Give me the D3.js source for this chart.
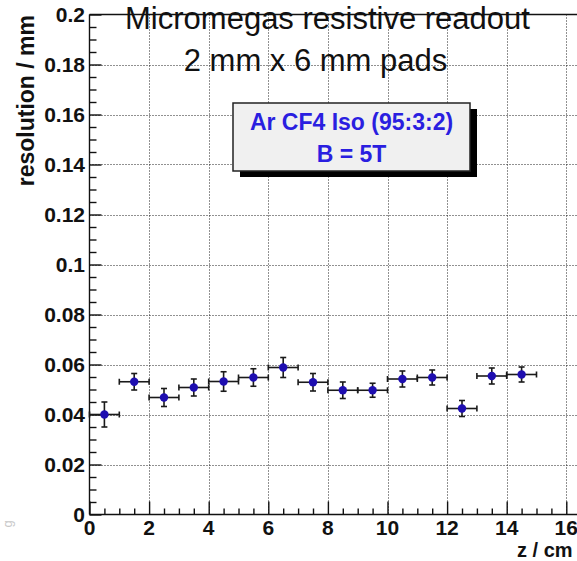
<!DOCTYPE html>
<html>
<head>
<meta charset="utf-8">
<script src="https://cdn.jsdelivr.net/npm/d3@7"></script>
<style>
  body { margin: 0; background: #fff; overflow: hidden; }
  svg { display: block; font-family: "Liberation Sans", Arial, Helvetica, sans-serif; }
</style>
</head>
<body>
<svg id="chart"></svg>
<script>
// chart size
const width = 577;
const height = 561;

// data
const zValues = [0.5, 1.5, 2.5, 3.5, 4.5, 5.5, 6.5, 7.5, 8.5, 9.5, 10.5, 11.5, 12.5, 13.5, 14.5];
const resolution = [0.0400, 0.0531, 0.0468, 0.0508, 0.0532, 0.0548, 0.0588, 0.0529, 0.0497, 0.0497, 0.0542, 0.0548, 0.0424, 0.0554, 0.0560];
const resError = [0.0050, 0.0033, 0.0036, 0.0034, 0.0039, 0.0035, 0.0040, 0.0035, 0.0033, 0.0028, 0.0032, 0.0030, 0.0032, 0.0032, 0.0030];
const zHalfWidth = [0.5, 0.5, 0.5, 0.5, 0.5, 0.5, 0.5, 0.5, 0.5, 0.5, 0.5, 0.5, 0.5, 0.5, 0.5];

const xTicks = [0, 2, 4, 6, 8, 10, 12, 14, 16];
const yTicks = [0, 0.02, 0.04, 0.06, 0.08, 0.1, 0.12, 0.14, 0.16, 0.18, 0.2];
const titleLines = ["Micromegas resistive readout", "2 mm x 6 mm pads"];
const legendLines = ["Ar CF4 Iso (95:3:2)", "B = 5T"];

const points = zValues.map((z, i) => ({ z: z, r: resolution[i], e: resError[i], dz: zHalfWidth[i] }));

// frame (right side runs off the window, like the original)
const plotLeft = 89.5, plotTop = 14.5, plotBottom = 514.5;
const x = d3.scaleLinear().domain([0, 16]).range([plotLeft, plotLeft + 16 * 29.8]);
const y = d3.scaleLinear().domain([0, 0.2]).range([plotBottom, plotTop]);

const svg = d3.select("#chart")
    .attr("width", width)
    .attr("height", height);

svg.append("rect").attr("width", width).attr("height", height).attr("fill", "#fff");

// dotted grid
svg.append("g")
    .selectAll("line")
    .data(yTicks.filter(t => t > 0 && t < 0.2))
    .enter()
    .append("line")
    .attr("x1", plotLeft).attr("x2", width)
    .attr("y1", d => Math.round(y(d)) + 0.5).attr("y2", d => Math.round(y(d)) + 0.5)
    .attr("stroke", "#222").attr("stroke-width", 1).attr("stroke-dasharray", "1,2");

svg.append("g")
    .selectAll("line")
    .data(xTicks.filter(t => t > 0))
    .enter()
    .append("line")
    .attr("x1", d => Math.round(x(d)) + 0.5).attr("x2", d => Math.round(x(d)) + 0.5)
    .attr("y1", plotTop).attr("y2", plotBottom)
    .attr("stroke", "#222").attr("stroke-width", 1).attr("stroke-dasharray", "1,2");

// axes: ticks pointing into the frame, labels drawn separately
const yMinor = d3.range(0, 0.2001, 0.005);
const xMinor = d3.range(0, 16.001, 0.5);

const yAxis = svg.append("g")
    .attr("transform", `translate(${plotLeft},0)`)
    .call(d3.axisRight(y).tickValues(yMinor).tickSize(7).tickFormat(""));
yAxis.selectAll(".tick line")
    .attr("x2", d => Math.abs(Math.round(d * 50) - d * 50) < 1e-6 ? 12 : 7);
yAxis.select(".domain").attr("d", `M0,${plotTop}V${plotBottom}`);

const xAxis = svg.append("g")
    .attr("transform", `translate(0,${plotBottom})`)
    .call(d3.axisTop(x).tickValues(xMinor).tickSize(6).tickFormat(""));
xAxis.selectAll(".tick line")
    .attr("y2", d => Math.abs(Math.round(d / 2) - d / 2) < 1e-6 ? -13 : -6);
xAxis.select(".domain").attr("d", `M${plotLeft},0H${width}`);

svg.selectAll(".domain, .tick line").attr("stroke", "#111").attr("stroke-width", 1.4);

// top frame line
svg.append("line")
    .attr("x1", plotLeft).attr("x2", width)
    .attr("y1", plotTop).attr("y2", plotTop)
    .attr("stroke", "#111").attr("stroke-width", 1.4);

// tick labels
svg.append("g")
    .selectAll("text")
    .data(yTicks)
    .enter()
    .append("text")
    .attr("x", 85)
    .attr("y", d => y(d) + 7.5)
    .attr("text-anchor", "end")
    .attr("font-size", 21)
    .attr("font-weight", "bold")
    .attr("fill", "#111")
    .text(d => d3.format("~g")(d));

svg.append("g")
    .selectAll("text")
    .data(xTicks)
    .enter()
    .append("text")
    .attr("x", d => x(d))
    .attr("y", 535)
    .attr("text-anchor", "middle")
    .attr("font-size", 21)
    .attr("font-weight", "bold")
    .attr("fill", "#111")
    .text(d => d);

// axis titles
svg.append("text")
    .attr("transform", "translate(34,15) rotate(-90)")
    .attr("text-anchor", "end")
    .attr("font-size", 23)
    .attr("font-weight", "bold")
    .attr("fill", "#111")
    .text("resolution / mm");

svg.append("text")
    .attr("x", 517)
    .attr("y", 557)
    .attr("font-size", 20)
    .attr("font-weight", "bold")
    .attr("fill", "#111")
    .text("z / cm");

// faint leftover glyph at the lower left edge
svg.append("text")
    .attr("transform", "translate(12,524) rotate(-90)")
    .attr("text-anchor", "middle")
    .attr("font-size", 13)
    .attr("fill", "#c8c8c8")
    .text("g");

// error bars
const bars = svg.append("g").attr("stroke", "#1a1a1a").attr("stroke-width", 1.6);
points.forEach(d => {
    const cx = x(d.z), cy = y(d.r);
    bars.append("line")
        .attr("x1", x(d.z - d.dz)).attr("x2", x(d.z + d.dz))
        .attr("y1", cy).attr("y2", cy);
    bars.append("line")
        .attr("x1", cx).attr("x2", cx)
        .attr("y1", y(d.r - d.e)).attr("y2", y(d.r + d.e));
    // end caps
    [d.z - d.dz, d.z + d.dz].forEach(v => {
        bars.append("line")
            .attr("x1", x(v)).attr("x2", x(v))
            .attr("y1", cy - 3).attr("y2", cy + 3);
    });
    [d.r - d.e, d.r + d.e].forEach(v => {
        bars.append("line")
            .attr("x1", cx - 3).attr("x2", cx + 3)
            .attr("y1", y(v)).attr("y2", y(v));
    });
});

// markers
svg.append("g")
    .selectAll("circle")
    .data(points)
    .enter()
    .append("circle")
    .attr("cx", d => x(d.z))
    .attr("cy", d => y(d.r))
    .attr("r", 4.2)
    .attr("fill", "#1e0eb0");

// title
svg.append("g")
    .selectAll("text")
    .data(titleLines)
    .enter()
    .append("text")
    .attr("x", (d, i) => i === 0 ? 327.5 : 315.5)
    .attr("y", (d, i) => i === 0 ? 28.5 : 71)
    .attr("text-anchor", "middle")
    .attr("font-size", 31)
    .attr("fill", "#111")
    .text(d => d);

// legend box with shadow
const box = { x: 233, y: 103, w: 237, h: 68 };
svg.append("rect")
    .attr("x", box.x + 7).attr("y", box.y + 6)
    .attr("width", box.w).attr("height", box.h)
    .attr("fill", "#000");
svg.append("rect")
    .attr("x", box.x).attr("y", box.y)
    .attr("width", box.w).attr("height", box.h)
    .attr("fill", "#f0f0f0")
    .attr("stroke", "#222").attr("stroke-width", 1.5);

svg.append("g")
    .selectAll("text")
    .data(legendLines)
    .enter()
    .append("text")
    .attr("x", box.x + box.w / 2)
    .attr("y", (d, i) => i === 0 ? 130 : 162)
    .attr("text-anchor", "middle")
    .attr("font-size", 23)
    .attr("font-weight", "bold")
    .attr("fill", "#2a1ee0")
    .text(d => d);
</script>
</body>
</html>
